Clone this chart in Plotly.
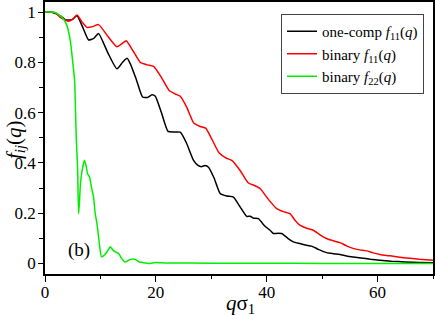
import plotly.graph_objects as go

# one-component f11(q)
x_one = [0, 1, 1.8, 2.3, 2.75, 3.2, 3.66, 4.25, 4.9, 5.77, 6.8, 7.86, 8.8, 9.66, 11.3, 12.97, 14.0, 14.8,
         15.4, 16.5, 17.6, 18.5, 19.3, 19.9, 21.0, 22.2, 23.4, 24.4, 25.5, 26.8, 27.6, 28.2, 28.9, 29.5,
         30.5, 31.6, 32.8, 34.0, 35.2, 36.4, 37.0, 37.6, 38.5, 39.6, 40.6, 41.2, 42.0, 42.7, 43.8, 44.8,
         46.0, 47.0, 48.1, 49.4, 50.8, 52.0, 53.2, 54.4, 55.6, 57.0, 58.7, 60.4, 62.5, 65.0, 67.5, 70.0]
y_one = [1, 1, 0.995, 0.99, 0.985, 0.978, 0.969, 0.968, 0.97, 0.985, 0.94, 0.889, 0.895, 0.915, 0.84, 0.774,
         0.80, 0.816, 0.794, 0.73, 0.662, 0.66, 0.671, 0.665, 0.6, 0.525, 0.523, 0.522, 0.48, 0.41, 0.39,
         0.385, 0.39, 0.383, 0.34, 0.278, 0.268, 0.264, 0.225, 0.187, 0.188, 0.18, 0.178, 0.15, 0.132,
         0.119, 0.12, 0.119, 0.1, 0.086, 0.079, 0.073, 0.069, 0.055, 0.043, 0.039, 0.036, 0.03, 0.026,
         0.022, 0.017, 0.013, 0.009, 0.006, 0.004, 0.003]

# binary f11(q)
x_b11 = [0, 1, 2, 2.75, 3.5, 4.25, 5, 5.77, 6.7, 7.57, 8.6, 9.66, 11.3, 12.97, 14.0, 14.65, 15.9, 17.2,
         18.5, 19.6, 21.0, 22.4, 23.5, 24.4, 25.6, 26.8, 28.0, 29.0, 30.2, 31.4, 32.6, 33.7, 35.2, 36.7,
         37.8, 38.8, 40.3, 41.8, 43.0, 44.2, 45.1, 46.0, 47.2, 48.4, 49.6, 50.8, 52, 53.2, 54.4, 55.6,
         56.8, 58, 59.2, 60.4, 61.6, 62.8, 64, 65.2, 67.5, 70]
y_b11 = [1, 1, 0.995, 0.979, 0.97, 0.963, 0.972, 0.988, 0.96, 0.939, 0.942, 0.950, 0.905, 0.862, 0.876,
         0.886, 0.845, 0.80, 0.79, 0.784, 0.74, 0.688, 0.674, 0.665, 0.62, 0.56, 0.545, 0.538, 0.49, 0.44,
         0.42, 0.41, 0.37, 0.32, 0.31, 0.298, 0.255, 0.218, 0.206, 0.198, 0.172, 0.152, 0.14, 0.132, 0.114,
         0.099, 0.09, 0.083, 0.07, 0.06, 0.054, 0.05, 0.042, 0.036, 0.032, 0.029, 0.025, 0.022, 0.017, 0.013]

# binary f22(q)
x_b22 = [0, 1, 1.86, 2.75, 3.35, 3.96, 4.56, 4.98, 5.34, 5.64, 5.88, 6.06, 6.2, 6.4, 6.7, 7.1, 7.4, 7.68,
         8.04, 8.4, 8.76, 9.06, 9.37, 9.8, 10.2, 10.8, 11.3, 11.77, 12.2, 12.67, 13.27, 13.8, 14.4, 14.9,
         15.4, 16.3, 17.0, 17.6, 18.7, 19.9, 22, 30, 40, 50, 60, 70]
y_b22 = [1, 1, 0.998, 0.985, 0.972, 0.946, 0.886, 0.807, 0.727, 0.5, 0.38, 0.198, 0.24, 0.317, 0.37, 0.41,
         0.39, 0.357, 0.344, 0.3, 0.264, 0.198, 0.159, 0.08, 0.026, 0.035, 0.05, 0.066, 0.055, 0.046, 0.04,
         0.02, 0.006, 0.01, 0.016, 0.016, 0.006, 0.004, 0.0, 0.004, 0.002, 0.001, 0.001, 0.0, 0.0, 0.0]

names = ["one-comp <i>f</i><sub>11</sub>(<i>q</i>)",
         "binary <i>f</i><sub>11</sub>(<i>q</i>)",
         "binary <i>f</i><sub>22</sub>(<i>q</i>)"]
colors = ["#000000", "#ff0000", "#00ee00"]

x_ticks = [0, 20, 40, 60]
x_minor = [10, 30, 50, 70]
y_ticks = [0, 0.2, 0.4, 0.6, 0.8, 1]
y_minor = [0.1, 0.3, 0.5, 0.7, 0.9]
y_ticktext = ["0", "0.2", "0.4", "0.6", "0.8", "1"]

FONT = "Liberation Serif"
W, H = 436, 316
L, R, T, B = 45, 3, 2, 42
pw, ph = W - L - R, H - T - B


def px_to_paper(px, py):
    return (px - L) / pw, (H - py - B) / ph


fig = go.Figure()
for xs, ys, nm, c in [(x_one, y_one, names[0], colors[0]),
                      (x_b11, y_b11, names[1], colors[1]),
                      (x_b22, y_b22, names[2], colors[2])]:
    fig.add_trace(go.Scatter(x=xs, y=ys, mode="lines", name=nm,
                             line=dict(color=c, width=1.5, shape="spline", smoothing=0.5)))

XR = [0, 70]
YR = [-0.042, 1.04]

xt_x, xt_y = px_to_paper(240, 304)
yt_x, yt_y = px_to_paper(15, 140)
lg_x, lg_y = px_to_paper(281, 14)

fig.update_layout(
    width=W, height=H,
    margin=dict(l=L, r=R, t=T, b=B, autoexpand=False),
    paper_bgcolor="white", plot_bgcolor="white",
    font=dict(family=FONT, size=17, color="black"),
    showlegend=True,
    legend=dict(x=lg_x, y=lg_y, xanchor="left", yanchor="top",
                bgcolor="white", bordercolor="#444444", borderwidth=1,
                font=dict(family=FONT, size=15, color="black"), itemwidth=30,
                tracegroupgap=0),
    xaxis=dict(range=XR, showgrid=False, zeroline=False, showline=True, automargin=False,
               linecolor="black", linewidth=1.5, mirror=True,
               ticks="outside", ticklen=6, tickwidth=1, tickcolor="black",
               tickvals=x_ticks, ticktext=[str(v) for v in x_ticks], ticklabelstandoff=-4,
               tickfont=dict(family=FONT, size=17, color="black"),
               minor=dict(ticks="outside", ticklen=3, tickvals=x_minor, tickcolor="black")),
    yaxis=dict(range=YR, showgrid=False, zeroline=False, showline=True, automargin=False,
               linecolor="black", linewidth=1.5, mirror=True,
               ticks="outside", ticklen=5, tickwidth=1, tickcolor="black",
               tickvals=y_ticks, ticktext=y_ticktext, ticklabelstandoff=-1,
               tickfont=dict(family=FONT, size=17, color="black"),
               minor=dict(ticks="outside", ticklen=4, tickvals=y_minor, tickcolor="black")),
    xaxis2=dict(range=XR, overlaying="x", side="top", anchor="y", showgrid=False, zeroline=False,
                showticklabels=False, ticks="inside", ticklen=6, tickcolor="black",
                tickvals=x_ticks,
                minor=dict(ticks="inside", ticklen=3, tickvals=x_minor, tickcolor="black")),
    yaxis2=dict(range=YR, overlaying="y", side="right", anchor="x", showgrid=False, zeroline=False,
                showticklabels=False, ticks="inside", ticklen=5, tickcolor="black",
                tickvals=y_ticks,
                minor=dict(ticks="inside", ticklen=4, tickvals=y_minor, tickcolor="black")),
    annotations=[
        dict(x=6.2, y=0.053, xref="x", yref="y", text="(b)", showarrow=False,
             xanchor="center", yanchor="middle",
             font=dict(family=FONT, size=19, color="black")),
        dict(x=xt_x, y=xt_y, xref="paper", yref="paper", text="<i>q</i>σ<sub>1</sub>",
             showarrow=False, xanchor="center", yanchor="middle",
             font=dict(family=FONT, size=21, color="black")),
        dict(x=yt_x, y=yt_y, xref="paper", yref="paper",
             text="<i>f</i><sub><i>ij</i></sub>(<i>q</i>)", textangle=-90,
             showarrow=False, xanchor="center", yanchor="middle",
             font=dict(family=FONT, size=21, color="black")),
    ],
)

fig.write_html("out.html", config={"displayModeBar": False},
               post_script="document.body.style.margin='0';")
